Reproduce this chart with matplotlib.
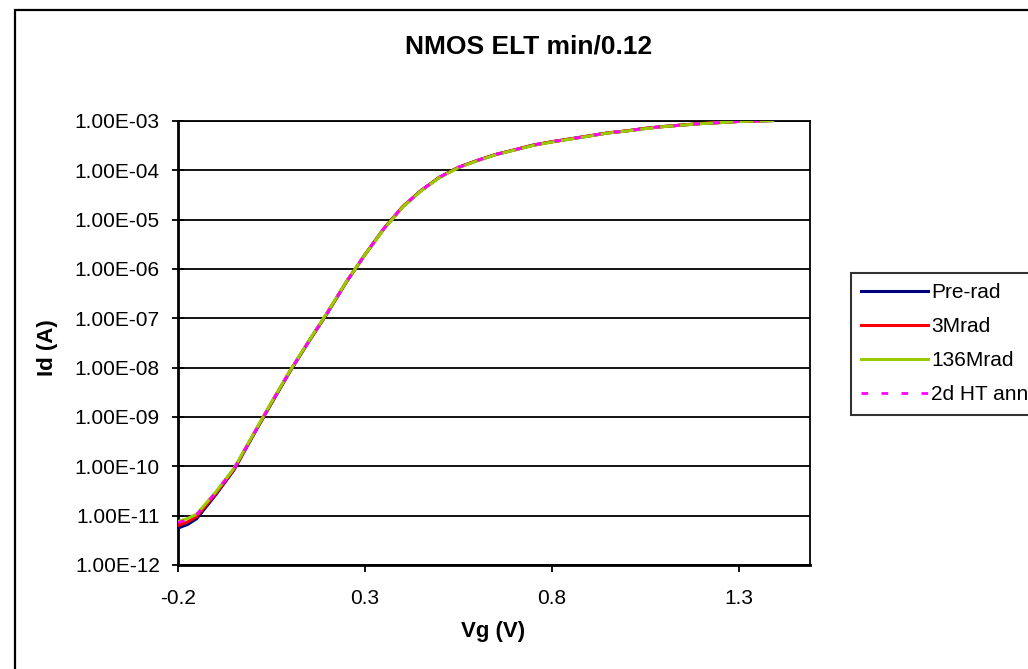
#!/usr/bin/env python3
"""NMOS ELT min/0.12 - Id vs Vg, log scale, four irradiation steps."""

import matplotlib

matplotlib.use("Agg")
import matplotlib.pyplot as plt
from matplotlib.patches import Rectangle
from matplotlib.ticker import FixedLocator, FuncFormatter

plt.rcParams["font.family"] = ["Liberation Sans", "DejaVu Sans"]

W, H = 1028, 669

# gate voltage (V)
vg = [-0.2, -0.175, -0.15, -0.1, -0.05, 0.0, 0.05, 0.1, 0.15, 0.2, 0.25, 0.3,
      0.35, 0.4, 0.45, 0.5, 0.55, 0.6, 0.65, 0.7, 0.75, 0.8, 0.85, 0.9, 0.95,
      1.0, 1.05, 1.1, 1.15, 1.2, 1.25, 1.3, 1.35, 1.39]

# drain current (A)
pre_rad = [5.6e-12, 6.6e-12, 8.7e-12, 2.6e-11, 8.5e-11, 4.1e-10, 1.9e-9, 8.5e-9,
           3.4e-8, 1.3e-7, 5.4e-7, 1.95e-6, 6.5e-6, 1.8e-5, 3.9e-5, 7.3e-5,
           1.15e-4, 1.58e-4, 2.1e-4, 2.6e-4, 3.25e-4, 3.8e-4, 4.35e-4, 5.0e-4,
           5.75e-4, 6.3e-4, 7.1e-4, 7.75e-4, 8.3e-4, 8.9e-4, 9.3e-4, 9.8e-4,
           1.0e-3, 1.02e-3]
mrad_3 = [6.3e-12, 7.4e-12, 9.6e-12, 2.75e-11, 8.7e-11, 4.2e-10, 1.95e-9, 8.7e-9,
          3.45e-8, 1.32e-7, 5.45e-7, 1.96e-6, 6.5e-6, 1.81e-5, 3.9e-5, 7.3e-5,
          1.15e-4, 1.58e-4, 2.1e-4, 2.6e-4, 3.25e-4, 3.8e-4, 4.35e-4, 5.0e-4,
          5.75e-4, 6.3e-4, 7.1e-4, 7.75e-4, 8.3e-4, 8.9e-4, 9.3e-4, 9.8e-4,
          1.0e-3, 1.02e-3]
mrad_136 = [7.6e-12, 8.7e-12, 1.08e-11, 2.95e-11, 9.2e-11, 4.3e-10, 2.0e-9, 8.8e-9,
            3.5e-8, 1.35e-7, 5.5e-7, 1.95e-6, 6.4e-6, 1.77e-5, 3.85e-5, 7.2e-5,
            1.13e-4, 1.56e-4, 2.08e-4, 2.57e-4, 3.2e-4, 3.75e-4, 4.3e-4, 4.95e-4,
            5.7e-4, 6.25e-4, 7.0e-4, 7.7e-4, 8.25e-4, 8.85e-4, 9.25e-4, 9.75e-4,
            1.0e-3, 1.02e-3]
ht_anneal = [7.2e-12, 8.4e-12, 1.05e-11, 2.9e-11, 9.0e-11, 4.2e-10, 1.95e-9, 8.7e-9,
             3.45e-8, 1.32e-7, 5.45e-7, 1.96e-6, 6.5e-6, 1.81e-5, 3.9e-5, 7.3e-5,
             1.15e-4, 1.58e-4, 2.1e-4, 2.6e-4, 3.25e-4, 3.8e-4, 4.35e-4, 5.0e-4,
             5.75e-4, 6.3e-4, 7.1e-4, 7.75e-4, 8.3e-4, 8.9e-4, 9.3e-4, 9.8e-4,
             1.0e-3, 1.02e-3]

labels = ["Pre-rad", "3Mrad", "136Mrad", "2d HT anneal"]
colors = ["#000080", "#FF0000", "#99CC00", "#FF00FF"]
x_ticks = [-0.2, 0.3, 0.8, 1.3]
y_ticks = [1e-12, 1e-11, 1e-10, 1e-9, 1e-8, 1e-7, 1e-6, 1e-5, 1e-4, 1e-3]

fig = plt.figure(figsize=(W / 100, H / 100), dpi=100)

# outer chart border (runs off the right/bottom edge like the original)
fig.patches.append(Rectangle((15 / W, -0.1), 1.2, 1 - 10 / H + 0.1,
                             transform=fig.transFigure, fill=False,
                             edgecolor="black", linewidth=1.6))

left, right, top, bottom = 178, 810, 121, 565
ax = fig.add_axes([left / W, 1 - bottom / H, (right - left) / W, (bottom - top) / H])

series = [pre_rad, mrad_3, mrad_136, ht_anneal]
for ys, lab, col in zip(series, labels, colors):
    if lab == "2d HT anneal":
        ax.plot(vg, ys, color=col, lw=2.0, ls=(0, (2.4, 4.8)), label=lab, zorder=4)
    else:
        ax.plot(vg, ys, color=col, lw=2.2, label=lab, zorder=3)

ax.set_yscale("log")
ax.set_xlim(-0.2, 1.49)
ax.set_ylim(1e-12, 1e-3)
ax.yaxis.set_major_locator(FixedLocator(y_ticks))
ax.yaxis.set_minor_locator(FixedLocator([]))
ax.yaxis.set_major_formatter(FuncFormatter(lambda v, _: f"{v:.2E}"))
ax.set_xticks(x_ticks)
ax.set_xticklabels([f"{t:g}" for t in x_ticks])
ax.grid(axis="y", color="black", lw=1.3)
ax.set_axisbelow(True)

for side in ["left", "bottom"]:
    ax.spines[side].set_linewidth(2.0)
for side in ["top", "right"]:
    ax.spines[side].set_linewidth(1.3)
ax.tick_params(axis="y", direction="inout", length=8, width=1.3, labelsize=15, pad=9)
ax.tick_params(axis="x", direction="out", length=5, width=1.3, labelsize=15, pad=12)

fig.text(529 / W, 1 - 47 / H, "NMOS ELT min/0.12", ha="center", va="center",
         fontsize=19, fontweight="bold")
fig.text(493 / W, 1 - 632 / H, "Vg (V)", ha="center", va="center",
         fontsize=16, fontweight="bold")
fig.text(48 / W, 1 - 348 / H, "Id (A)", ha="center", va="center", rotation=90,
         fontsize=16, fontweight="bold")

leg = ax.legend(loc="upper left", bbox_to_anchor=(851 / W, 1 - 273 / H),
                bbox_transform=fig.transFigure, frameon=True, fancybox=False,
                fontsize=15, handlelength=3.2, handletextpad=0.15,
                labelspacing=0.72, borderpad=0.5, borderaxespad=0)
leg.get_frame().set_edgecolor("black")
leg.get_frame().set_linewidth(1.5)

fig.savefig("out.png", dpi=100)
